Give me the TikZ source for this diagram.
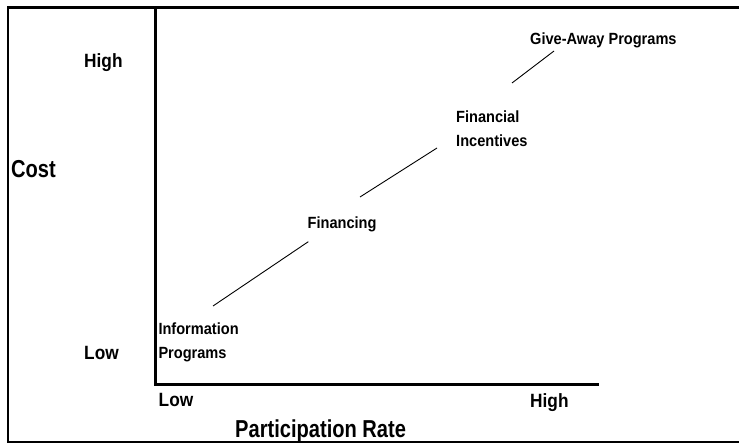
\documentclass[tikz,border=0pt]{standalone}
\usepackage{fontspec}
\setmainfont{Liberation Sans}[FakeStretch=0.9]
\newfontfamily\titlefont{Liberation Sans}[FakeStretch=0.82]
\tikzset{
  label text/.style={font=\bfseries\fontsize{16.2}{24.5}\selectfont, inner sep=0pt, align=left},
  tick text/.style={font=\bfseries\fontsize{19.2}{23}\selectfont, inner sep=0pt},
  axis title/.style={font=\titlefont\bfseries\fontsize{24.5}{29}\selectfont, inner sep=0pt},
  link/.style={line width=0.9pt},
}
\begin{document}
\begin{tikzpicture}[x=1pt,y=-1pt]
        \useasboundingbox (0,0) rectangle (739,444);

        % Draw the frame (open at the right)
        \draw[line width=2.6pt] (739,7.5) -- (8,7.5) -- (8,442) -- (739,442);

        % Draw the axes
        \coordinate (ytop) at (155,7);
        \coordinate (origin) at (155,384);
        \coordinate (xend) at (599,384);
        \draw[line width=3pt] (ytop) -- (origin) -- (xend);

        % Axis labels
        \node[tick text, anchor=base west] (yhigh) at (84,67.7) {High};
        \node[tick text, anchor=base west] (ylow) at (84,359.5) {Low};
        \node[tick text, anchor=base west] (xlow) at (158.5,406.7) {Low};
        \node[tick text, anchor=base west] (xhigh) at (530,407) {High};
        \node[axis title, anchor=base west] (cost) at (11,177) {Cost};
        \node[axis title, anchor=base west] (rate) at (235,437) {Participation Rate};

        % Program types
        \node[label text, anchor=north west] (info) at (158.3,322.5) {Information\\Programs};
        \node[label text, anchor=base west] (financing) at (307.5,228.3) {Financing};
        \node[label text, anchor=north west] (incent) at (456,110.4) {Financial\\Incentives};
        \node[label text, anchor=base west] (giveaway) at (530,45) {Give-Away Programs};

        % Links in between
        \coordinate (info end) at (213,306);
        \coordinate (fin in) at (308.3,241.7);
        \coordinate (fin out) at (360,197);
        \coordinate (incent in) at (437,148);
        \coordinate (incent out) at (512,83);
        \coordinate (give in) at (554,51);
        \foreach \a/\b in {info end/fin in, fin out/incent in, incent out/give in} {
            \draw[link] (\a) -- (\b);
        };
    \end{tikzpicture}
\end{document}
